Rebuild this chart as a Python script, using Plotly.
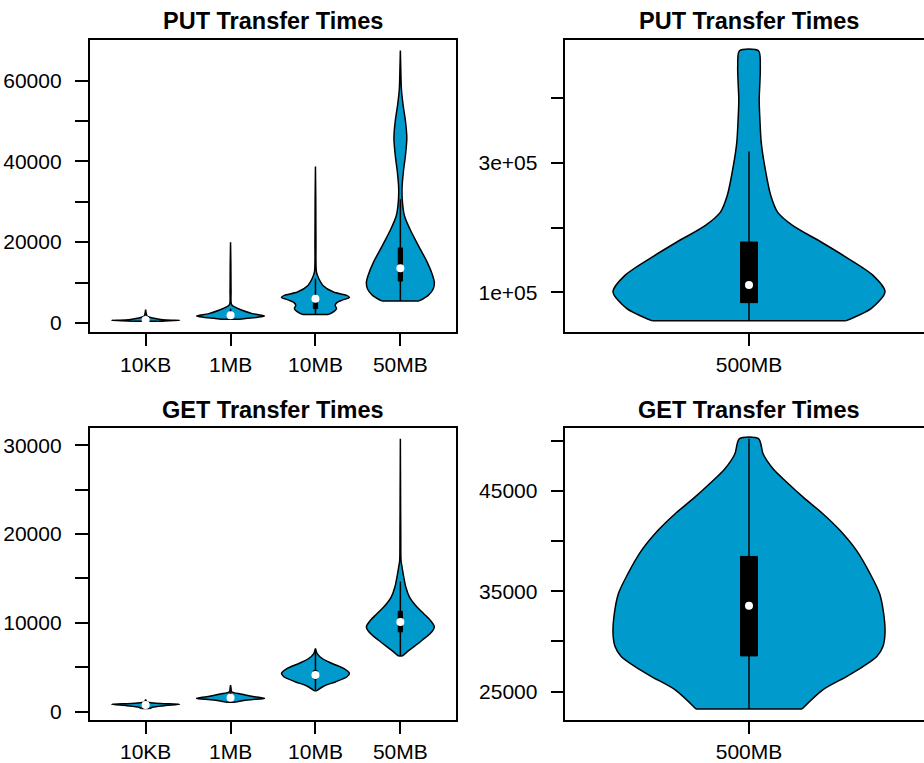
import plotly.graph_objects as go

# ---------------- data ----------------
small_cats = ["10KB", "1MB", "10MB", "50MB"]
big_cats = ["500MB"]

# violin outlines: y levels and relative half-widths (1 = widest point)
put_10kb_y = [400, 550, 640, 720, 900, 1200, 1600, 2200, 3300]
put_10kb_w = [0.35, 0.7, 1.0, 0.6, 0.4, 0.2, 0.05, 0.02, 0.0]
put_1mb_y = [900, 1100, 1400, 1720, 2290, 3110, 3940, 4500, 8000, 14000, 19970]
put_1mb_w = [0.28, 0.45, 0.8, 1.0, 0.64, 0.34, 0.12, 0.03, 0.015, 0.01, 0.0]
put_10mb_y = [2050, 2710, 3530, 4340, 5010, 5580, 6320, 6810, 7640, 9270, 10920, 12580, 20000, 30000, 38710]
put_10mb_w = [0.37, 0.53, 0.62, 0.58, 0.63, 0.77, 1.0, 0.92, 0.53, 0.22, 0.1, 0.03, 0.015, 0.01, 0.0]
put_50mb_y = [5430, 6810, 8460, 10100, 11750, 15040, 19150, 23260, 26550, 30000, 33500, 37500, 41500,
              45800, 50000, 54000, 58000, 62000, 67470]
put_50mb_w = [0.55, 0.82, 0.97, 1.0, 0.95, 0.79, 0.53, 0.28, 0.12, 0.06, 0.05, 0.09, 0.15,
              0.19, 0.15, 0.08, 0.03, 0.015, 0.0]
put_500mb_y = [56000, 75400, 101000, 126600, 154700, 177700, 203300, 223800, 249400, 295400, 331200,
               367000, 397700, 423300, 448800, 472900]
put_500mb_w = [0.71, 0.9, 1.0, 0.91, 0.71, 0.53, 0.32, 0.21, 0.16, 0.115, 0.09,
               0.08, 0.075, 0.08, 0.083, 0.07]

get_10kb_y = [350, 500, 670, 820, 950, 1100, 1380]
get_10kb_w = [0.12, 0.2, 0.55, 1.0, 0.3, 0.03, 0.0]
get_1mb_y = [1050, 1310, 1490, 1680, 1980, 2240, 2600, 2990]
get_1mb_w = [0.1, 0.5, 1.0, 0.7, 0.3, 0.03, 0.015, 0.0]
get_10mb_y = [2350, 2880, 3370, 3930, 4300, 4860, 5420, 5980, 6540, 7100]
get_10mb_w = [0.04, 0.25, 0.6, 0.93, 1.0, 0.83, 0.49, 0.2, 0.05, 0.0]
get_50mb_y = [6250, 6730, 7290, 8040, 8790, 9540, 10290, 11030, 11780, 12900, 14030, 15150, 16270,
              17020, 20000, 25000, 30740]
get_50mb_w = [0.05, 0.2, 0.39, 0.64, 0.88, 1.0, 0.88, 0.69, 0.49, 0.27, 0.16, 0.1, 0.05,
              0.02, 0.012, 0.006, 0.0]
get_500mb_y = [23280, 25200, 26520, 27510, 28500, 29490, 30810, 32790, 34770, 36750, 39060, 41040,
               42690, 44340, 45820, 47140, 48630, 50180]
get_500mb_w = [0.39, 0.545, 0.72, 0.84, 0.94, 0.985, 1.0, 0.99, 0.96, 0.89, 0.79, 0.67,
               0.545, 0.40, 0.28, 0.18, 0.105, 0.07]

# box stats: [lower whisker, Q1, median, Q3, upper whisker]
put_10kb_box = [450, 600, 700, 760, 900]
put_1mb_box = [900, 1500, 1880, 2300, 3500]
put_10mb_box = [2050, 3530, 5990, 6600, 11000]
put_50mb_box = [5430, 10360, 13560, 18570, 30650]
put_500mb_box = [56000, 84100, 111300, 177700, 317400]
get_10kb_box = [350, 680, 750, 850, 1100]
get_1mb_box = [1050, 1420, 1570, 1720, 2200]
get_10mb_box = [2350, 3700, 4120, 4600, 7100]
get_50mb_box = [6250, 8980, 10100, 11300, 14660]
get_500mb_box = [23280, 28560, 33550, 38460, 50180]

# axis ticks
put_small_ticks = [0, 10000, 20000, 30000, 40000, 50000, 60000]
put_small_text = ["0", "", "20000", "", "40000", "", "60000"]
put_big_ticks = [100000, 200000, 300000, 400000]
put_big_text = ["1e+05", "", "3e+05", ""]
get_small_ticks = [0, 5000, 10000, 15000, 20000, 25000, 30000]
get_small_text = ["0", "", "10000", "", "20000", "", "30000"]
get_big_ticks = [25000, 30000, 35000, 40000, 45000, 50000]
get_big_text = ["25000", "", "35000", "", "45000", ""]

titles = ["PUT Transfer Times", "PUT Transfer Times", "GET Transfer Times", "GET Transfer Times"]

# ---------------- drawing ----------------
FILL = "#009ACD"
FONT = "Liberation Sans, Arial, Helvetica, sans-serif"
HALF = 0.4   # violin half width (category units)
BOXH = 0.025 # box half width
LW = 1.5

fig = go.Figure()


def add_violin(pos, ys, ws, box, xa, ya):
    xr = [pos + w * HALF for w in ws]
    xl = [pos - w * HALF for w in ws]
    common = dict(xaxis=xa, yaxis=ya, hoverinfo="skip", showlegend=False)
    # smooth sides (right side up, left side down), flat bottom edge closes the shape
    x = xr + xl[::-1]
    y = list(ys) + list(ys)[::-1]
    fig.add_trace(go.Scatter(x=x, y=y, mode="lines", fill="toself", fillcolor=FILL,
                             line=dict(color="black", width=LW, shape="spline", smoothing=0.8),
                             **common))
    fig.add_trace(go.Scatter(x=[xl[0], xr[0]], y=[ys[0], ys[0]], mode="lines",
                             line=dict(color="black", width=LW), **common))
    fig.add_trace(go.Scatter(x=[pos, pos], y=[box[0], box[4]], mode="lines",
                             line=dict(color="black", width=LW), **common))
    fig.add_trace(go.Scatter(x=[pos - BOXH, pos + BOXH, pos + BOXH, pos - BOXH, pos - BOXH],
                             y=[box[1], box[1], box[3], box[3], box[1]], mode="lines",
                             fill="toself", fillcolor="black",
                             line=dict(color="black", width=1), **common))
    fig.add_trace(go.Scatter(x=[pos], y=[box[2]], mode="markers",
                             marker=dict(color="white", size=8, line=dict(width=0)), **common))


put_small = [(put_10kb_y, put_10kb_w, put_10kb_box), (put_1mb_y, put_1mb_w, put_1mb_box),
             (put_10mb_y, put_10mb_w, put_10mb_box), (put_50mb_y, put_50mb_w, put_50mb_box)]
get_small = [(get_10kb_y, get_10kb_w, get_10kb_box), (get_1mb_y, get_1mb_w, get_1mb_box),
             (get_10mb_y, get_10mb_w, get_10mb_box), (get_50mb_y, get_50mb_w, get_50mb_box)]

for i, (ys, ws, bx) in enumerate(put_small):
    add_violin(i + 1, ys, ws, bx, "x", "y")
add_violin(1, put_500mb_y, put_500mb_w, put_500mb_box, "x2", "y2")
for i, (ys, ws, bx) in enumerate(get_small):
    add_violin(i + 1, ys, ws, bx, "x3", "y3")
add_violin(1, get_500mb_y, get_500mb_w, get_500mb_box, "x4", "y4")

W, H = 924, 763
left_dom = [89.6 / W, 456.4 / W]
right_dom = [565.4 / W, 1.0]
top_dom = [(H - 333.3) / H, (H - 40) / H]
bot_dom = [(H - 723.3) / H, (H - 430) / H]

axis_common = dict(showgrid=False, zeroline=False, showline=True, linecolor="black",
                   linewidth=LW, ticks="outside", ticklen=13, tickwidth=LW, tickcolor="black",
                   tickfont=dict(family=FONT, size=21, color="black"), fixedrange=True)

def xax(dom, cats, rng, mirror, anchor):
    return dict(domain=dom, range=rng, tickmode="array", tickvals=list(range(1, len(cats) + 1)),
                ticktext=cats, mirror=mirror, anchor=anchor, ticklabelstandoff=0, **axis_common)

def yax(dom, ticks, text, rng, mirror, anchor):
    return dict(domain=dom, range=rng, tickmode="array", tickvals=ticks, ticktext=text,
                mirror=mirror, anchor=anchor, ticklabelstandoff=9, **axis_common)

right_rng = [0.46, 1 + (W - 749) / 340.0]
fig.update_layout(
    width=W, height=H, margin=dict(l=0, r=0, t=0, b=0),
    paper_bgcolor="white", plot_bgcolor="white", showlegend=False,
    font=dict(family=FONT, color="black"),
    xaxis=xax(left_dom, small_cats, [0.34, 4.66], True, "y"),
    yaxis=yax(top_dom, put_small_ticks, put_small_text, [-2150, 70120], True, "x"),
    xaxis2=xax(right_dom, big_cats, right_rng, True, "y2"),
    yaxis2=yax(top_dom, put_big_ticks, put_big_text, [39500, 489800], False, "x2"),
    xaxis3=xax(left_dom, small_cats, [0.34, 4.66], True, "y3"),
    yaxis3=yax(bot_dom, get_small_ticks, get_small_text, [-890, 31970], True, "x3"),
    xaxis4=xax(right_dom, big_cats, right_rng, True, "y4"),
    yaxis4=yax(bot_dom, get_big_ticks, get_big_text, [22230, 51270], False, "x4"),
)

title_pos = [(273, 21.5), (749, 21.5), (273, 411.8), (749, 411.8)]
for t, (px, py) in zip(titles, title_pos):
    fig.add_annotation(text="<b>" + t + "</b>", x=px / W, y=(H - py) / H, xref="paper", yref="paper",
                       xanchor="center", yanchor="middle", showarrow=False,
                       font=dict(family=FONT, size=23.5, color="black"))

fig.write_html("out.html")
